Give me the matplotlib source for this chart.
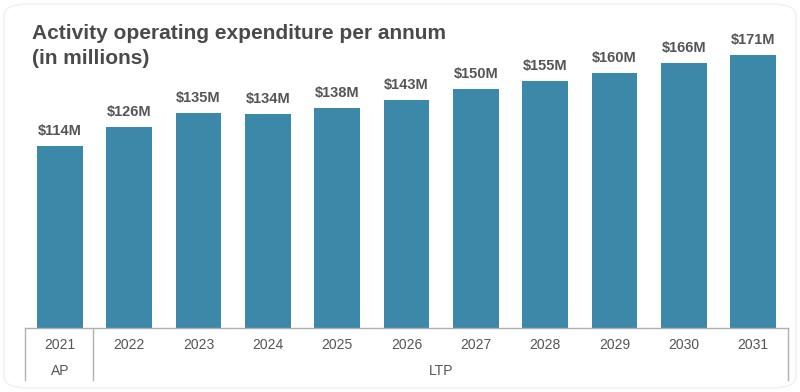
import matplotlib
matplotlib.use("Agg")
import matplotlib.pyplot as plt
from matplotlib.patches import FancyBboxPatch

years = ["2021", "2022", "2023", "2024", "2025", "2026", "2027", "2028", "2029", "2030", "2031"]
values = [114, 126, 135, 134, 138, 143, 150, 155, 160, 166, 171]
value_labels = ["$114M", "$126M", "$135M", "$134M", "$138M", "$143M", "$150M", "$155M", "$160M", "$166M", "$171M"]
groups = ["AP", "LTP"]

plt.rcParams["font.family"] = ["Liberation Sans", "DejaVu Sans"]

W, H = 800, 392
fig = plt.figure(figsize=(W / 100, H / 100), dpi=100)

# faint rounded card border
card = FancyBboxPatch((4 / W, 4 / H), (W - 8) / W, (H - 8) / H,
                      boxstyle="round,pad=0,rounding_size=0.03",
                      transform=fig.transFigure, facecolor="none",
                      edgecolor="#f0f0f0", linewidth=1.0, zorder=0)
fig.patches.append(card)

ax_left, ax_right = 25, 788
ax_bottom, ax_top = 328, 41
ax = fig.add_axes([ax_left / W, (H - ax_bottom) / H,
                   (ax_right - ax_left) / W, (ax_bottom - ax_top) / H])
ax.set_facecolor("none")
ax.set_zorder(2)

x = list(range(len(years)))
bar_color = "#3B88A8"
bars = ax.bar(x, values, width=0.66, color=bar_color, zorder=2)
ax.set_xlim(-0.505, len(years) - 0.495)
ax.set_ylim(0, 180)

for spine in ["top", "right", "left"]:
    ax.spines[spine].set_visible(False)
ax.spines["bottom"].set_color("#b0b0b0")
ax.spines["bottom"].set_linewidth(1.0)
ax.set_xticks([])
ax.set_yticks([])

# value labels above each bar
for xi, v, lab in zip(x, values, value_labels):
    ax.annotate(lab, xy=(xi, v), xytext=(0, 8), textcoords="offset pixels",
                ha="center", va="bottom", fontsize=10.5, fontweight="bold",
                color="#555555")

# category axis: years and group rows
for xi, yr in zip(x, years):
    ax.annotate(yr, xy=(xi, 0), xycoords=("data", "axes fraction"),
                xytext=(0, -17), textcoords="offset pixels",
                ha="center", va="center", fontsize=10, color="#555555")

ax.annotate(groups[0], xy=(0, 0), xycoords=("data", "axes fraction"),
            xytext=(0, -43), textcoords="offset pixels",
            ha="center", va="center", fontsize=10, color="#555555")
ax.annotate(groups[1], xy=(5.5, 0), xycoords=("data", "axes fraction"),
            xytext=(0, -43), textcoords="offset pixels",
            ha="center", va="center", fontsize=10, color="#555555")

# group dividers below the axis
drop = 52 / (ax_bottom - ax_top)
for xd in [-0.505, 0.48, len(years) - 0.495]:
    ax.plot([xd, xd], [0, -drop], transform=ax.get_xaxis_transform(),
            color="#b0b0b0", linewidth=1.0, clip_on=False)

fig.text(32 / W, 1 - 24 / H, "Activity operating expenditure per annum\n(in millions)",
         ha="left", va="top", fontsize=15, fontweight="bold", color="#4a4a4a",
         linespacing=1.37)

fig.savefig("out.png", dpi=100)
